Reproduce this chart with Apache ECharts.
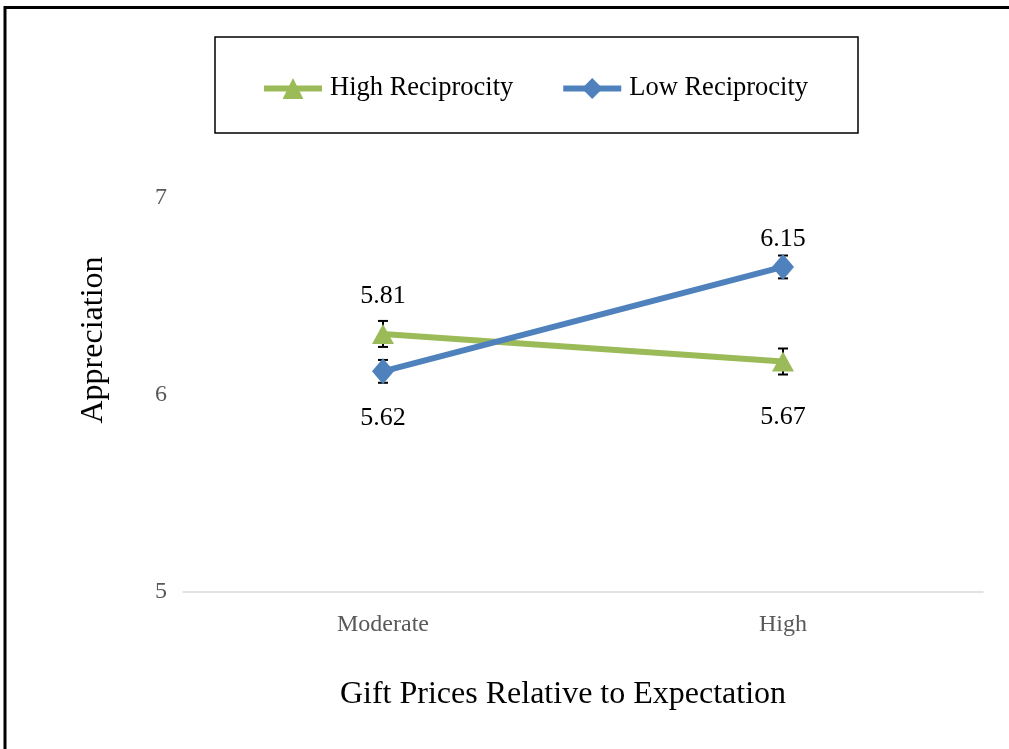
<!DOCTYPE html>
<html>
<head>
<meta charset="utf-8">
<script src="https://cdn.jsdelivr.net/npm/echarts@6/dist/echarts.min.js"></script>
<style>
  html, body { margin: 0; padding: 0; background: #fff; }
  #chart { width: 1009px; height: 749px; }
</style>
</head>
<body>
<div id="chart"></div>
<script>
// categories on the x axis
const categories = ['Moderate', 'High']
// plotted positions
const highRecip = [6.31, 6.17]
const lowRecip = [6.12, 6.65]
// printed labels next to the points
const highRecipLabels = ['5.81', '5.67']
const lowRecipLabels = ['5.62', '6.15']
// half length of error bars
const highRecipErr = [0.066, 0.066]
const lowRecipErr = [0.058, 0.058]
const yTicks = [5, 6, 7]

const serif = 'Liberation Serif'
const green = '#9BBB59'
const blue = '#4F81BD'

const myChart = echarts.init(document.getElementById('chart'))

// error bars built from the values above
const errData = []
highRecip.forEach((v, i) => errData.push([i, v - highRecipErr[i], v + highRecipErr[i]]))
lowRecip.forEach((v, i) => errData.push([i, v - lowRecipErr[i], v + lowRecipErr[i]]))

const renderErr = (params, api) => {
    const lo = api.coord([api.value(0), api.value(1)])
    const hi = api.coord([api.value(0), api.value(2)])
    const w = 5
    const style = { stroke: '#000', lineWidth: 2 }
    return {
        type: 'group',
        children: [
            { type: 'line', shape: { x1: lo[0], y1: lo[1], x2: hi[0], y2: hi[1] }, style },
            { type: 'line', shape: { x1: lo[0] - w, y1: lo[1], x2: lo[0] + w, y2: lo[1] }, style },
            { type: 'line', shape: { x1: hi[0] - w, y1: hi[1], x2: hi[0] + w, y2: hi[1] }, style }
        ]
    }
}

const labelStyle = { fontFamily: serif, fontSize: 26, color: '#000' }

const option = {
    animation: false,
    graphic: [
        // outer frame (top and left only)
        { type: 'polyline', shape: { points: [[5, 749], [5, 7.5], [1009, 7.5]] },
          style: { stroke: '#000', lineWidth: 3, fill: null } },
        // legend frame
        { type: 'rect', shape: { x: 215, y: 37, width: 643, height: 96 },
          style: { stroke: '#000', lineWidth: 1.5, fill: null } }
    ],
    legend: {
        data: ['High Reciprocity', 'Low Reciprocity'],
        left: 256,
        top: 70,
        itemWidth: 58,
        itemHeight: 26,
        itemGap: 47,
        lineStyle: { width: 6 },
        textStyle: { fontFamily: serif, fontSize: 26.5, color: '#000', padding: [0, 0, 0, 3] }
    },
    grid: { left: 183, right: 26, top: 198, bottom: 157 },
    xAxis: {
        type: 'category',
        data: categories,
        name: 'Gift Prices Relative to Expectation',
        nameLocation: 'middle',
        nameGap: 87,
        nameTextStyle: { fontFamily: serif, fontSize: 32, color: '#000', padding: [0, 40, 0, 0] },
        axisLine: { lineStyle: { color: '#d9d9d9', width: 1.5 } },
        axisTick: { show: false },
        axisLabel: { fontFamily: serif, fontSize: 24, color: '#595959', margin: 21 }
    },
    yAxis: {
        type: 'value',
        min: yTicks[0],
        max: yTicks[yTicks.length - 1],
        interval: 1,
        name: 'Appreciation',
        nameLocation: 'middle',
        nameGap: 73,
        nameTextStyle: { fontFamily: serif, fontSize: 32, color: '#000', padding: [0, 0, 0, 110] },
        axisLine: { show: false },
        axisTick: { show: false },
        splitLine: { show: false },
        axisLabel: { fontFamily: serif, fontSize: 24, color: '#595959', margin: 16 }
    },
    series: [
        {
            type: 'custom',
            renderItem: renderErr,
            data: errData,
            encode: { x: 0, y: [1, 2] },
            z: 1,
            silent: true
        },
        {
            name: 'High Reciprocity',
            type: 'line',
            data: highRecip.map((v, i) => ({
                value: v,
                label: { position: i === 0 ? 'top' : 'bottom', distance: i === 0 ? 15 : 33 }
            })),
            symbol: 'triangle',
            symbolSize: [22, 20],
            lineStyle: { color: green, width: 6 },
            itemStyle: { color: green },
            label: Object.assign({ show: true, formatter: (p) => highRecipLabels[p.dataIndex] }, labelStyle),
            z: 2
        },
        {
            name: 'Low Reciprocity',
            type: 'line',
            data: lowRecip.map((v, i) => ({
                value: v,
                label: { position: i === 0 ? 'bottom' : 'top', distance: i === 0 ? 21 : 2 }
            })),
            symbol: 'diamond',
            symbolSize: [22, 26],
            lineStyle: { color: blue, width: 6 },
            itemStyle: { color: blue },
            label: Object.assign({ show: true, formatter: (p) => lowRecipLabels[p.dataIndex] }, labelStyle),
            z: 3
        }
    ]
}

myChart.setOption(option)
window.addEventListener('resize', () => {
    myChart.resize()
})
</script>
</body>
</html>
